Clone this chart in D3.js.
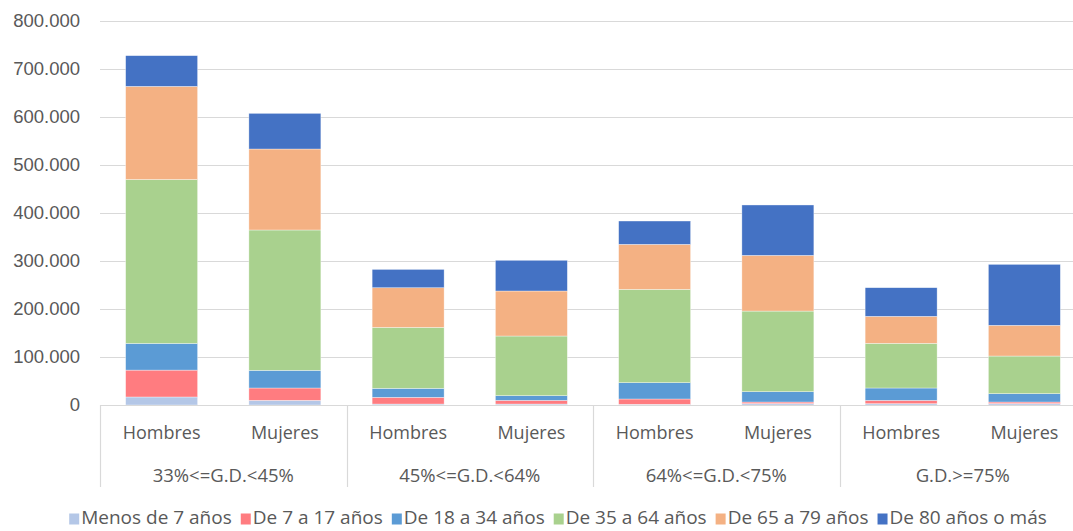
<!DOCTYPE html>
<meta charset="utf-8">
<script src="https://d3js.org/d3.v7.min.js"></script>
<style>
  body { margin: 0; background: #fff; }
  text { font-family: "Open Sans", sans-serif; fill: #595959; }
  .ytick { font-family: "Liberation Sans", Arial, sans-serif; }
</style>
<body>
<div id="chart"></div>
<script>
// data (values in thousands)
var groups = ["33%<=G.D.<45%", "45%<=G.D.<64%", "64%<=G.D.<75%", "G.D.>=75%"];
var sexes = ["Hombres", "Mujeres"];
var ageBands = ["Menos de 7 años", "De 7 a 17 años", "De 18 a 34 años", "De 35 a 64 años", "De 65 a 79 años", "De 80 años o más"];
var colors = ["#b4c7e7", "#ff7c80", "#5b9bd5", "#a9d18e", "#f4b183", "#4472c4"];

// one array per age band, 8 bars: (H, M) per group
var menos7 = [16.7, 9.7, 2, 2, 1.5, 3, 2.7, 3];
var de7a17 = [56, 25.7, 14, 7.7, 11, 3.2, 7, 3.2];
var de18a34 = [55.6, 36.8, 18.7, 9.7, 34, 21.5, 25.7, 17.4];
var de35a64 = [341.5, 292.4, 127, 124.3, 194.4, 168, 93.1, 78.4];
var de65a79 = [194, 168.7, 82.6, 93.8, 93.8, 116, 56.2, 64];
var de80 = [64, 74.3, 38.2, 64, 48.6, 105, 59.7, 127];

var yTicks = [0, 100, 200, 300, 400, 500, 600, 700, 800];

var series = [menos7, de7a17, de18a34, de35a64, de65a79, de80];

var width = 1073, height = 531;
var margin = {top: 21, left: 100, right: 1086, bottom: 405};

var svg = d3.select("#chart").append("svg")
    .attr("width", width)
    .attr("height", height);

var bars = [];
groups.forEach(function(g, gi) {
    sexes.forEach(function(s, si) {
        var row = {key: g + "|" + s, group: g, sex: s};
        ageBands.forEach(function(a, ai) { row[a] = series[ai][gi * 2 + si] * 1000; });
        bars.push(row);
    });
});

var x = d3.scaleBand()
    .domain(bars.map(function(d) { return d.key; }))
    .range([margin.left, margin.right])
    .paddingInner(0.416)
    .paddingOuter(0.208);

var y = d3.scaleLinear()
    .domain([0, 800000])
    .range([margin.bottom, margin.top]);

var fmt = function(v) {
    return v === 0 ? "0" : d3.format(",")(v).replace(/,/g, ".");
};

// gridlines
svg.append("g")
    .selectAll("line")
    .data(yTicks.slice(1))
    .enter().append("line")
    .attr("x1", margin.left)
    .attr("x2", margin.right)
    .attr("y1", function(d) { return Math.round(y(d * 1000)) + 0.5; })
    .attr("y2", function(d) { return Math.round(y(d * 1000)) + 0.5; })
    .attr("stroke", "#d9d9d9")
    .attr("stroke-width", 1.2);

// y labels
svg.append("g")
    .selectAll("text")
    .data(yTicks)
    .enter().append("text")
    .attr("class", "ytick")
    .attr("x", 80)
    .attr("y", function(d) { return y(d * 1000); })
    .attr("dy", "0.35em")
    .attr("text-anchor", "end")
    .attr("font-size", 18.5)
    .text(function(d) { return fmt(d * 1000); });

// stacked bars
var stack = d3.stack().keys(ageBands);
var layers = stack(bars);

svg.append("g")
    .selectAll("g")
    .data(layers)
    .enter().append("g")
    .attr("fill", function(d, i) { return colors[i]; })
    .selectAll("rect")
    .data(function(d) { return d; })
    .enter().append("rect")
    .attr("x", function(d) { return x(d.data.key); })
    .attr("width", x.bandwidth())
    .attr("y", function(d) { return y(d[1]); })
    .attr("height", function(d) { return y(d[0]) - y(d[1]); })
    .attr("stroke", "#ffffff")
    .attr("stroke-opacity", 0.6)
    .attr("stroke-width", 0.6);

// category axis baseline and separators
svg.append("line")
    .attr("x1", margin.left).attr("x2", margin.right)
    .attr("y1", margin.bottom + 0.5).attr("y2", margin.bottom + 0.5)
    .attr("stroke", "#d9d9d9")
    .attr("stroke-width", 1.2);

var groupWidth = (margin.right - margin.left) / groups.length;
var seps = d3.range(groups.length + 1).map(function(i) { return margin.left + i * groupWidth; });
svg.append("g")
    .selectAll("line")
    .data(seps)
    .enter().append("line")
    .attr("x1", function(d) { return Math.round(d) + 0.5; })
    .attr("x2", function(d) { return Math.round(d) + 0.5; })
    .attr("y1", margin.bottom)
    .attr("y2", 487)
    .attr("stroke", "#d9d9d9")
    .attr("stroke-width", 1.2);

// sex labels
svg.append("g")
    .selectAll("text")
    .data(bars)
    .enter().append("text")
    .attr("x", function(d) { return x(d.key) + x.bandwidth() / 2; })
    .attr("y", 433)
    .attr("dy", "0.35em")
    .attr("text-anchor", "middle")
    .attr("font-size", 18)
    .text(function(d) { return d.sex; });

// group labels
svg.append("g")
    .selectAll("text")
    .data(groups)
    .enter().append("text")
    .attr("x", function(d, i) { return margin.left + (i + 0.5) * groupWidth; })
    .attr("y", 476)
    .attr("dy", "0.35em")
    .attr("text-anchor", "middle")
    .attr("font-size", 18.5)
    .text(function(d) { return d; });

// legend
var legend = svg.append("g");
var items = legend.selectAll("g")
    .data(ageBands)
    .enter().append("g");
items.append("rect")
    .attr("width", 10).attr("height", 11)
    .attr("y", -10.5)
    .attr("fill", function(d, i) { return colors[i]; });
items.append("text")
    .attr("x", 12)
    .attr("font-size", 19)
    .text(function(d) { return d; });

var lx = 0;
items.each(function() {
    var w = this.getBBox().width;
    d3.select(this).attr("transform", "translate(" + lx + ",0)");
    lx += w + 9;
});
lx -= 9;
legend.attr("transform", "translate(" + (558 - lx / 2) + ",524)");
</script>
</body>
